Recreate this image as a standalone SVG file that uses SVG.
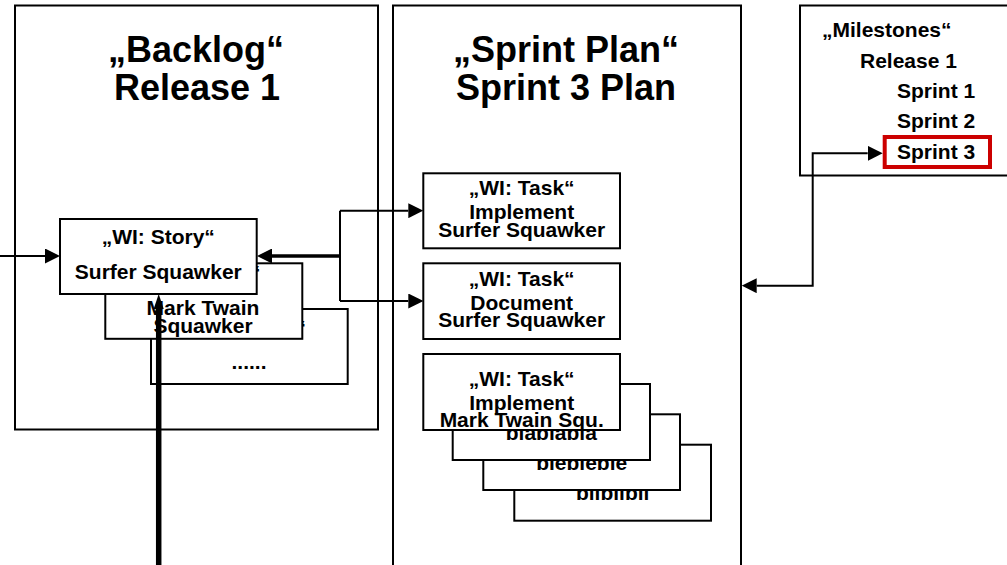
<svg xmlns="http://www.w3.org/2000/svg" width="1007" height="565" viewBox="0 0 1007 565">
<style>
text{font-family:"Liberation Sans",Arial,Helvetica,sans-serif;font-weight:bold;fill:#000;}
.t{font-size:36px;text-anchor:middle;}
.s{font-size:21px;text-anchor:middle;}
.m{font-size:21px;}
.q{font-size:21px;}
.box{fill:#fff;stroke:#000;stroke-width:2;}
.panel{fill:#fff;stroke:#000;stroke-width:2;}
.ln{fill:none;stroke:#000;stroke-width:2;}
.ln3{fill:none;stroke:#000;stroke-width:3.5;}
.lnT{fill:none;stroke:#000;stroke-width:5.5;}
</style>
<defs>
<marker id="ah" viewBox="0 0 15 15" markerWidth="15" markerHeight="15" refX="0" refY="7.5" orient="auto-start-reverse" markerUnits="userSpaceOnUse"><path d="M0,0 L15,7.5 L0,15 Z" fill="#000"/></marker>
<marker id="ahT" viewBox="0 0 15 10" markerWidth="15" markerHeight="10" refX="0" refY="5" orient="auto" markerUnits="userSpaceOnUse"><path d="M0,0 L15,5 L0,10 Z" fill="#000"/></marker>
</defs>
<rect width="1007" height="565" fill="#fff"/>

<g id="backlog">
<rect class="panel" x="15" y="5.5" width="363" height="424"/>
<text class="t" x="196" y="62">„Backlog“</text>
<text class="t" x="197" y="100">Release 1</text>
</g>

<g id="sprintplan">
<rect class="panel" x="393" y="5.5" width="348" height="580"/>
<text class="t" x="566" y="62">„Sprint Plan“</text>
<text class="t" x="566" y="100">Sprint 3 Plan</text>
</g>

<g id="milestones">
<rect class="panel" x="800" y="5.5" width="220" height="170"/>
<text class="m" x="822" y="37">„Milestones“</text>
<text class="m" x="860" y="68">Release 1</text>
<text class="m" x="897" y="98">Sprint 1</text>
<text class="m" x="897" y="128">Sprint 2</text>
<rect x="884.7" y="137" width="105.3" height="30" fill="#fff" stroke="#cc0000" stroke-width="4"/>
<text class="m" x="897" y="159">Sprint 3</text>
</g>

<g id="story3">
<rect class="box" x="151" y="309" width="196.7" height="75"/>
<text class="q" x="295.4" y="335">“</text>
<text class="s" x="249" y="369">......</text>
</g>
<g id="story2">
<rect class="box" x="105.3" y="263.3" width="197" height="75.5"/>
<text class="q" x="249.9" y="280">“</text>
<text class="s" x="203" y="315">Mark Twain</text>
<text class="s" x="203" y="333">Squawker</text>
</g>
<g id="story1">
<rect class="box" x="60" y="219" width="196.7" height="75"/>
<text class="s" x="158.3" y="243.5">„WI: Story“</text>
<text class="s" x="158.3" y="279">Surfer Squawker</text>
</g>

<g id="task1">
<rect class="box" x="423.3" y="173.3" width="196.7" height="75"/>
<text class="s" x="521.7" y="195">„WI: Task“</text>
<text class="s" x="521.7" y="219">Implement</text>
<text class="s" x="521.7" y="236.5">Surfer Squawker</text>
</g>
<g id="task2">
<rect class="box" x="423.3" y="263.3" width="196.7" height="75.7"/>
<text class="s" x="521.7" y="286">„WI: Task“</text>
<text class="s" x="521.7" y="310">Document</text>
<text class="s" x="521.7" y="327.3">Surfer Squawker</text>
</g>
<g id="taskC">
<rect class="box" x="514.3" y="444.7" width="196.7" height="76"/>
<text class="s" x="612.7" y="500">bliblibli</text>
</g>
<g id="taskB">
<rect class="box" x="483.3" y="414.3" width="196.7" height="75.7"/>
<text class="s" x="581.7" y="470">blebleble</text>
</g>
<g id="taskA">
<rect class="box" x="452.7" y="384" width="197.3" height="76"/>
<text class="s" x="551.3" y="440">blablabla</text>
</g>
<g id="task3">
<rect class="box" x="423.3" y="354" width="196.7" height="76"/>
<text class="s" x="521.7" y="386">„WI: Task“</text>
<text class="s" x="521.7" y="410">Implement</text>
<text class="s" x="521.7" y="426.7">Mark Twain Squ.</text>
</g>

<g id="connectors">
<path class="ln" d="M0,256 H45" marker-end="url(#ah)"/>
<path class="ln3" d="M340,256 H272" marker-end="url(#ah)"/>
<path class="ln" d="M340,210.7 V301"/>
<path class="ln" d="M340,210.7 H408.3" marker-end="url(#ah)"/>
<path class="ln" d="M340,301 H408.3" marker-end="url(#ah)"/>
<path class="ln" d="M756.7,285.7 H812.7 V153.3 H867.7" marker-start="url(#ah)" marker-end="url(#ah)"/>
<path class="lnT" d="M158.7,565 V309" marker-end="url(#ahT)"/>
</g>
</svg>
